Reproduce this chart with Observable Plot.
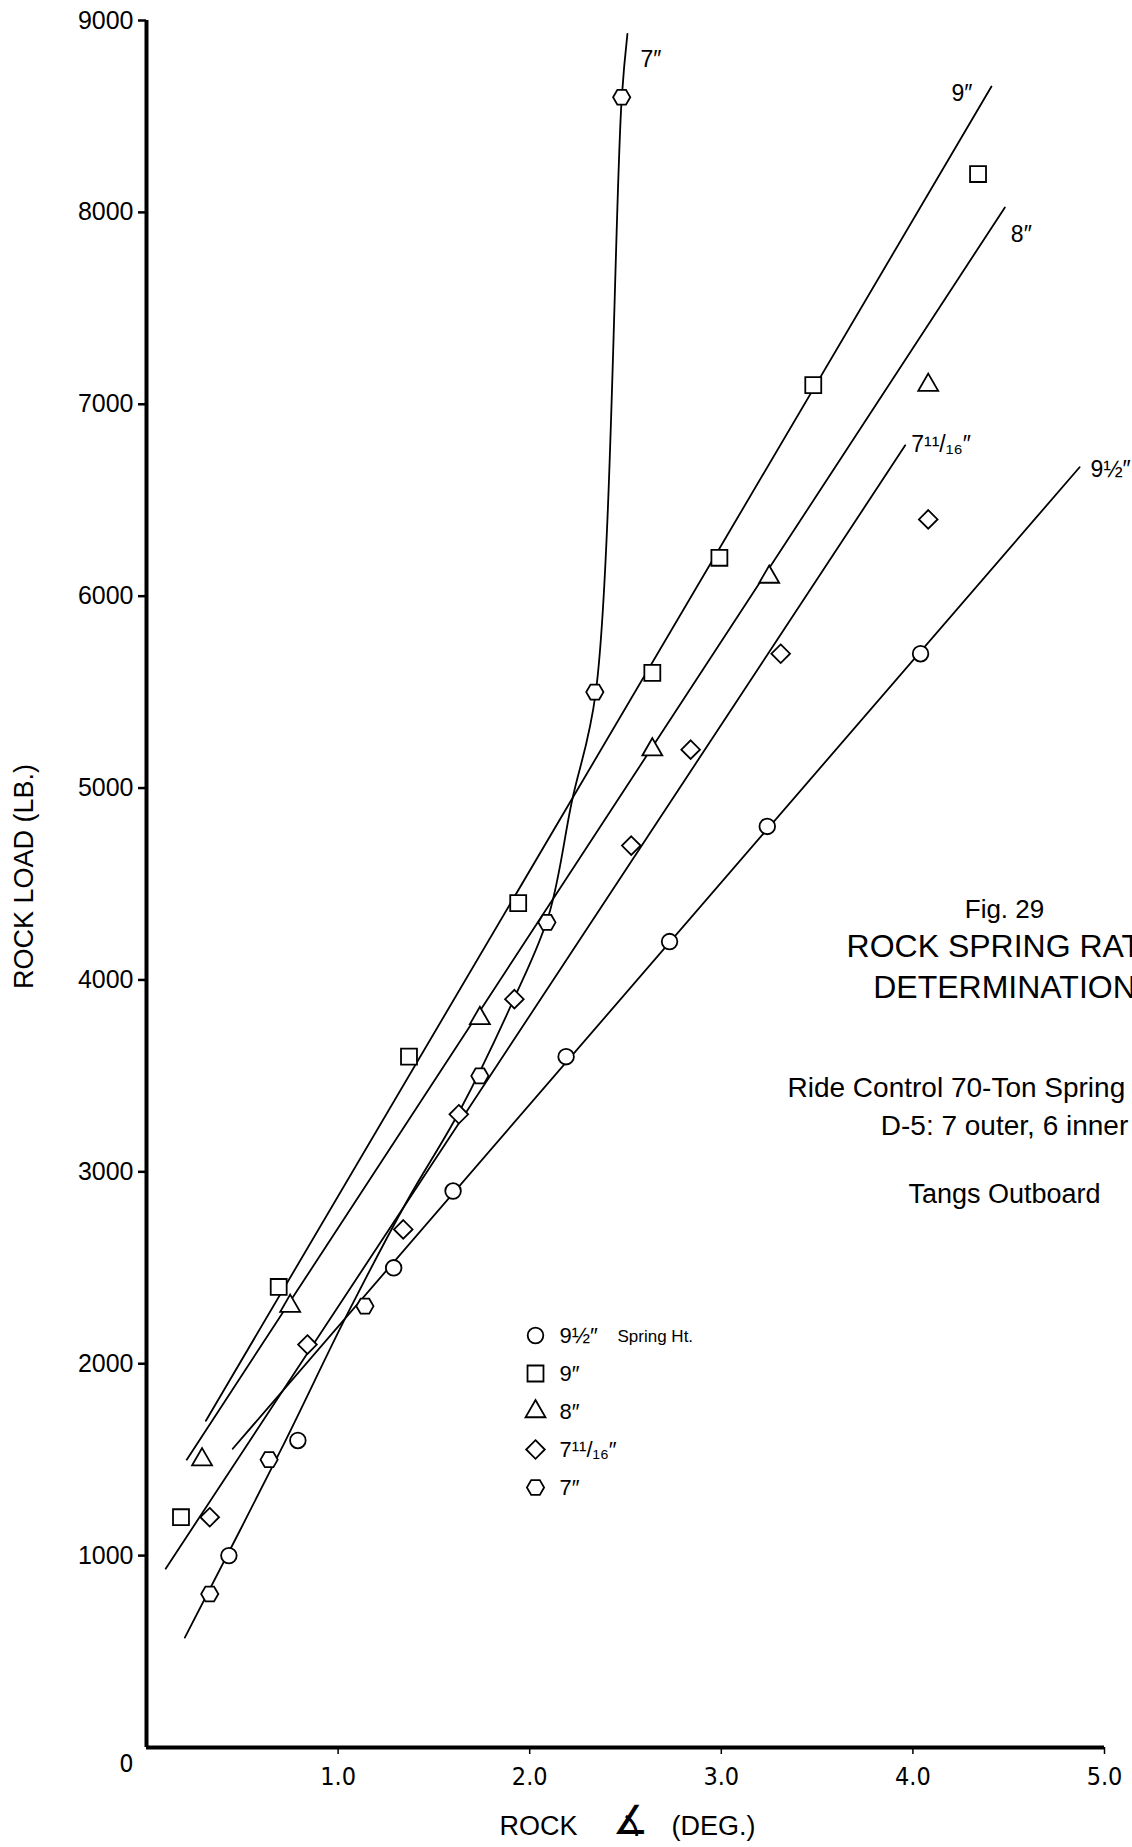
<!DOCTYPE html>
<html>
<head>
<meta charset="utf-8">
<script src="https://cdn.jsdelivr.net/npm/d3@7"></script>
<script src="https://cdn.jsdelivr.net/npm/@observablehq/plot@0.6"></script>
<style>
  html, body { margin: 0; padding: 0; background: #fff; overflow: hidden; }
  #chart { width: 1132px; height: 1847px; overflow: hidden; }
</style>
</head>
<body>
<div id="chart"></div>
<script>
// Rock load (lb.) against rock angle (deg.) for five spring heights.

// Axis ticks
const xTicks = [1, 2, 3, 4, 5];
const yTicks = [1000, 2000, 3000, 4000, 5000, 6000, 7000, 8000, 9000];

// Spring heights (series names)
const seriesNames = ["9½″", "9″", "8″", "7¹¹/₁₆″", "7″"];

// Measured points: rock angle (deg.) and rock load (lb.)
const rock9_5 = [0.43, 0.79, 1.29, 1.60, 2.19, 2.73, 3.24, 4.04];
const load9_5 = [1000, 1600, 2500, 2900, 3600, 4200, 4800, 5700];

const rock9 = [0.18, 0.69, 1.37, 1.94, 2.64, 2.99, 3.48, 4.34];
const load9 = [1200, 2400, 3600, 4400, 5600, 6200, 7100, 8200];

const rock8 = [0.29, 0.75, 1.74, 2.64, 3.25, 4.08];
const load8 = [1500, 2300, 3800, 5200, 6100, 7100];

const rock7_11 = [0.33, 0.84, 1.34, 1.63, 1.92, 2.53, 2.84, 3.31, 4.08];
const load7_11 = [1200, 2100, 2700, 3300, 3900, 4700, 5200, 5700, 6400];

const rock7 = [0.33, 0.64, 1.14, 1.74, 2.09, 2.34, 2.48];
const load7 = [800, 1500, 2300, 3500, 4300, 5500, 8600];

// Faired rate lines drawn through each set of points
const fitRock9_5 = [0.45, 4.87];
const fitLoad9_5 = [1557, 6672];

const fitRock9 = [0.31, 4.41];
const fitLoad9 = [1703, 8656];

const fitRock8 = [0.21, 4.48];
const fitLoad8 = [1500, 8026];

const fitRock7_11 = [0.10, 3.96];
const fitLoad7_11 = [932, 6786];

const fitRock7 = [0.20, 0.70, 1.05, 1.36, 1.63, 1.92, 2.10, 2.22, 2.345, 2.48, 2.51];
const fitLoad7 = [573, 1548, 2262, 2848, 3309, 3906, 4340, 4930, 5500, 8590, 8930];

// Text block
const figNumber = "Fig. 29";
const titleLines = ["ROCK SPRING RATE", "DETERMINATION"];
const noteLines = ["Ride Control 70-Ton Spring", "D-5: 7 outer, 6 inner", "Tangs Outboard"];
const legendSuffix = "Spring Ht.";
const yLabel = "ROCK LOAD (LB.)";

// Open hexagon marker (points left and right)
const hexagon = {
  draw(context, size) {
    const r = Math.sqrt(size / Math.PI);
    for (let k = 0; k < 6; ++k) {
      const a = (k * Math.PI) / 3;
      const px = r * Math.cos(a), py = r * Math.sin(a);
      if (k === 0) context.moveTo(px, py); else context.lineTo(px, py);
    }
    context.closePath();
  }
};

const series = [
  {name: seriesNames[0], rock: rock9_5, load: load9_5, fitRock: fitRock9_5, fitLoad: fitLoad9_5},
  {name: seriesNames[1], rock: rock9, load: load9, fitRock: fitRock9, fitLoad: fitLoad9},
  {name: seriesNames[2], rock: rock8, load: load8, fitRock: fitRock8, fitLoad: fitLoad8},
  {name: seriesNames[3], rock: rock7_11, load: load7_11, fitRock: fitRock7_11, fitLoad: fitLoad7_11},
  {name: seriesNames[4], rock: rock7, load: load7, fitRock: fitRock7, fitLoad: fitLoad7}
];

// Marker style and end-of-line label offset for each series
const looks = [
  {symbol: "circle", r: 7.8, curve: "linear", dx: 11, dy: 2},
  {symbol: "square", r: 9, curve: "linear", dx: -40, dy: 7},
  {symbol: "triangle", r: 7.4, curve: "linear", dx: 6, dy: 27},
  {symbol: "diamond2", r: 8.4, curve: "linear", dx: 6, dy: -1},
  {symbol: hexagon, r: 8.6, curve: "catmull-rom", dx: 13, dy: 26}
];

const fontMain = "'Liberation Sans', Arial, Helvetica, sans-serif";
const fontNarrow = "'Liberation Sans Narrow', 'DejaVu Sans Condensed', 'Arial Narrow', sans-serif";

const W = 1132, H = 1847;
const mL = 146, mR = 28, mT = 20, mB = 100;

const lineMarks = series.map((s, i) =>
  Plot.line({length: s.fitRock.length}, {
    x: s.fitRock, y: s.fitLoad, curve: looks[i].curve,
    stroke: "black", strokeWidth: 1.8
  })
);

const dotMarks = series.map((s, i) =>
  Plot.dot({length: s.rock.length}, {
    x: s.rock, y: s.load, symbol: looks[i].symbol, r: looks[i].r,
    fill: "white", stroke: "black", strokeWidth: 1.8
  })
);

const lineLabelMarks = series.map((s, i) =>
  Plot.text([s], {
    x: d => d.fitRock[d.fitRock.length - 1],
    y: d => d.fitLoad[d.fitLoad.length - 1],
    text: d => d.name,
    dx: looks[i].dx, dy: looks[i].dy,
    textAnchor: "start", lineAnchor: "middle",
    fontSize: 23
  })
);

// Legend, stacked inside the frame
const legendMarks = series.flatMap((s, i) => [
  Plot.dot([s], {
    frameAnchor: "top-left", dx: 389, dy: 1315 + 38 * i,
    symbol: looks[i].symbol, r: looks[i].r,
    fill: "white", stroke: "black", strokeWidth: 1.8
  }),
  Plot.text([s], {
    frameAnchor: "top-left", dx: 413, dy: 1315 + 38 * i,
    text: d => d.name, textAnchor: "start", lineAnchor: "middle", fontSize: 22
  })
]);
legendMarks.push(
  Plot.text([legendSuffix], {
    frameAnchor: "top-left", dx: 471, dy: 1316,
    textAnchor: "start", lineAnchor: "middle", fontSize: 17
  })
);

const blockX = 1004 - mL;
const centered = {frameAnchor: "top-left", textAnchor: "middle", lineAnchor: "middle"};
const textBlockMarks = [
  Plot.text([figNumber], {...centered, dx: blockX, dy: 909 - mT, fontSize: 26}),
  Plot.text([titleLines[0]], {...centered, dx: blockX, dy: 946 - mT, fontSize: 32}),
  Plot.text([titleLines[1]], {...centered, dx: blockX, dy: 987 - mT, fontSize: 32}),
  Plot.text([noteLines[0]], {frameAnchor: "top-left", dx: 787 - mL, dy: 1088 - mT, textAnchor: "start", lineAnchor: "middle", fontSize: 28}),
  Plot.text([noteLines[1]], {...centered, dx: blockX, dy: 1126 - mT, fontSize: 28}),
  Plot.text([noteLines[2]], {...centered, dx: blockX, dy: 1194 - mT, fontSize: 27})
];

const axisLabelMarks = [
  Plot.text([yLabel], {...centered, dx: 24 - mL, dy: 876 - mT, rotate: -90, fontSize: 27}),
  Plot.text(["ROCK"], {frameAnchor: "bottom-left", dx: 577 - mL, dy: 79, textAnchor: "end", lineAnchor: "middle", fontSize: 27}),
  Plot.text(["∡"], {frameAnchor: "bottom-left", dx: 630 - mL, dy: 74, textAnchor: "middle", lineAnchor: "middle", fontSize: 40, fontFamily: "'DejaVu Sans', sans-serif"}),
  Plot.text(["(DEG.)"], {frameAnchor: "bottom-left", dx: 671 - mL, dy: 79, textAnchor: "start", lineAnchor: "middle", fontSize: 27}),
  Plot.text(["0"], {frameAnchor: "bottom-left", dx: -20, dy: 16, textAnchor: "middle", lineAnchor: "middle", fontSize: 25, fontFamily: fontNarrow})
];

const chart = Plot.plot({
  width: W,
  height: H,
  marginLeft: mL,
  marginRight: mR,
  marginTop: mT,
  marginBottom: mB,
  style: {fontFamily: fontMain, fontSize: "25px", color: "black", background: "white"},
  x: {domain: [0, 5]},
  y: {domain: [0, 9000]},
  marks: [
    Plot.axisY(yTicks, {
      tickSize: 8, tickPadding: 5, tickFormat: d => String(d),
      fontSize: 25, strokeWidth: 2.5, label: null
    }),
    Plot.axisX(xTicks, {
      tickSize: 7, tickPadding: 13, tickFormat: d3.format(".1f"),
      fontSize: 25, fontFamily: fontNarrow, strokeWidth: 1.5, label: null
    }),
    Plot.ruleX([0], {strokeWidth: 4}),
    Plot.ruleY([0], {strokeWidth: 4}),
    ...lineMarks,
    ...dotMarks,
    ...lineLabelMarks,
    ...legendMarks,
    ...textBlockMarks,
    ...axisLabelMarks
  ]
});

document.getElementById("chart").appendChild(chart);
</script>
</body>
</html>
